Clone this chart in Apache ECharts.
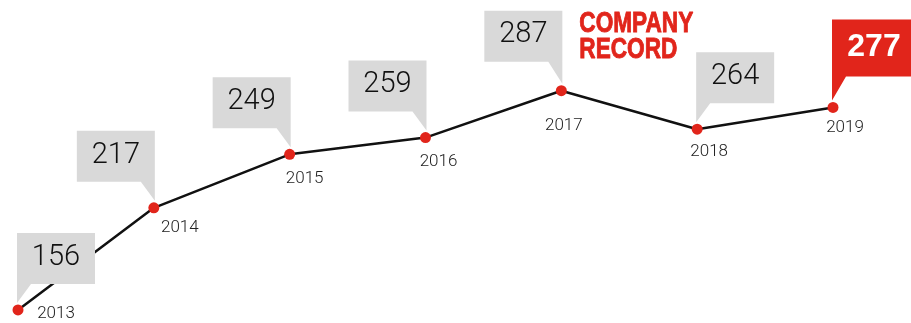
<!DOCTYPE html>
<html>
<head>
<meta charset="utf-8">
<script src="https://cdn.jsdelivr.net/npm/echarts@6/dist/echarts.min.js"></script>
<style>
  html, body { margin: 0; padding: 0; background: #ffffff; }
  #chart { width: 911px; height: 323px; }
</style>
</head>
<body>
<div id="chart"></div>
<script>
// Yearly results
const years = ['2013', '2014', '2015', '2016', '2017', '2018', '2019'];
const values = [156, 217, 249, 259, 287, 264, 277];
const recordNote = ['COMPANY', 'RECORD'];

// The best year gets the note, the latest year gets the red callout
const recordIndex = values.indexOf(Math.max(...values));
const latestIndex = values.length - 1;

const RED = '#e1251b';
const GREY = '#d9d9d9';
const LIGHT_FONT = 'Roboto, "Helvetica Neue", Arial, sans-serif';

// Which side of the callout box the pointer hangs from
const tailSide = ['left', 'right', 'right', 'right', 'right', 'left', 'left'];
// Year label centre offsets from each point
const yearOffset = [[38, 4], [26, 20], [15, 24], [13, 24], [2.5, 35], [12, 23], [12, 20]];

const points = values.map((v, i) => [i, v]);

function renderCallout(params, api) {
  const i = params.dataIndex;
  const p = api.coord([api.value(0), api.value(1)]);
  const latest = i === latestIndex;
  const w = latest ? 80 : 78;
  const h = latest ? 57 : 51;
  const lift = latest ? 31 : (i === recordIndex ? 29 : 26);
  const bottom = p[1] - lift;
  const top = bottom - h;
  const tipY = p[1] - 7;
  let pts, left;
  if (tailSide[i] === 'left') {
    left = p[0] - 1;
    pts = [[left, top], [left + w, top], [left + w, bottom], [left + 14, bottom], [left, tipY]];
  } else {
    const right = p[0] + 1;
    left = right - w;
    pts = [[left, top], [right, top], [right, tipY], [right - 14, bottom], [left, bottom]];
  }
  const children = [
    { type: 'polygon', shape: { points: pts }, style: { fill: latest ? RED : GREY } },
    {
      type: 'text',
      style: {
        x: left + w / 2 + (latest ? 2 : 0),
        y: (top + bottom) / 2 - 1,
        text: String(api.value(1)),
        align: 'center',
        verticalAlign: 'middle',
        fill: latest ? '#ffffff' : '#111111',
        font: latest ? 'bold 32px "Liberation Sans", Arial, sans-serif'
                     : '300 29px ' + LIGHT_FONT
      }
    }
  ];
  if (i === recordIndex) {
    // Condensed heavy note beside the record box
    recordNote.forEach((line, k) => {
      children.push({
        type: 'text',
        x: left + w + 17,
        y: top + 13.5 + k * 26,
        scaleX: 0.78,
        style: {
          x: 0,
          y: 0,
          text: line,
          align: 'left',
          verticalAlign: 'middle',
          fill: RED,
          stroke: RED,
          lineWidth: 0.9,
          font: 'bold 29px "Liberation Sans", Arial, sans-serif'
        }
      });
    });
  }
  return { type: 'group', children };
}

function renderYear(params, api) {
  const i = params.dataIndex;
  const p = api.coord([api.value(0), api.value(1)]);
  return {
    type: 'text',
    style: {
      x: p[0] + yearOffset[i][0],
      y: p[1] + yearOffset[i][1],
      text: years[i],
      align: 'center',
      verticalAlign: 'middle',
      fill: '#222222',
      font: '300 17px ' + LIGHT_FONT
    }
  };
}

const chart = echarts.init(document.getElementById('chart'), null, { renderer: 'canvas' });
chart.setOption({
  animation: false,
  backgroundColor: '#ffffff',
  grid: { left: 18, right: 78, top: 2, bottom: 3 },
  xAxis: { type: 'category', data: years, boundaryGap: false, show: false },
  yAxis: { type: 'value', min: 150, max: 340, show: false },
  series: [
    {
      type: 'line',
      data: values,
      showSymbol: false,
      lineStyle: { color: '#111111', width: 2.5 },
      z: 1,
      silent: true
    },
    {
      type: 'custom',
      data: points,
      renderItem: renderCallout,
      z: 2,
      silent: true
    },
    {
      type: 'scatter',
      data: values,
      symbol: 'circle',
      symbolSize: 11,
      itemStyle: { color: RED, opacity: 1 },
      z: 3,
      silent: true
    },
    {
      type: 'custom',
      data: points,
      renderItem: renderYear,
      z: 4,
      silent: true
    }
  ]
});
</script>
</body>
</html>
